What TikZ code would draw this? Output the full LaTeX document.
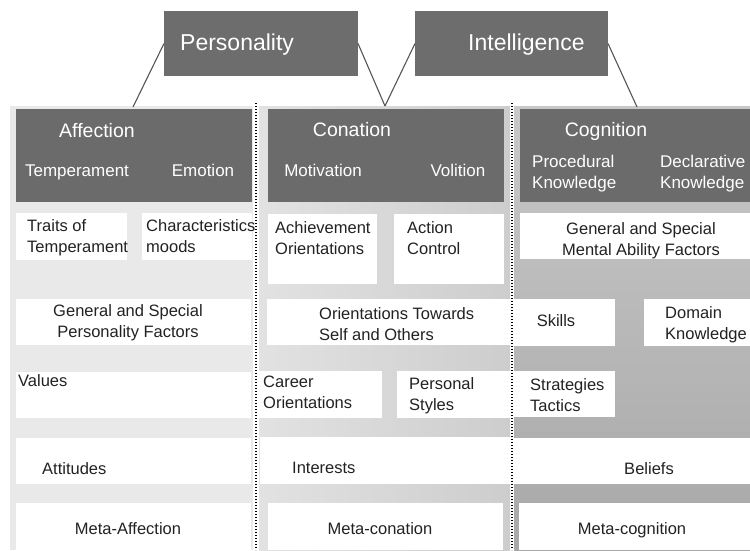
\documentclass[tikz,border=0pt]{standalone}
\usepackage{fontspec}
\setmainfont{Liberation Sans}
\definecolor{hdr}{HTML}{6B6B6B}
\definecolor{topc}{HTML}{6D6D6D}
\definecolor{txt}{HTML}{222222}
\definecolor{lc}{HTML}{555555}
\definecolor{cA}{HTML}{E9E9E9}
\definecolor{cBl}{HTML}{E2E2E2}
\definecolor{cBr}{HTML}{CDCDCD}
\definecolor{cCt}{HTML}{C8C8C8}
\definecolor{cCm}{HTML}{ABABAB}
\definecolor{cCb}{HTML}{A8A8A8}
\newcommand{\tl}[1]{\begin{tabular}[t]{@{}l@{}}#1\end{tabular}}
\newcommand{\tcc}[1]{\begin{tabular}[t]{@{}c@{}}#1\end{tabular}}
\newcommand{\mkbox}[6]{\node[#1,minimum width={(#5-#3)*1pt},minimum height={(#6-#4)*1pt}] (#2) at (#3,#4) {};}
\tikzset{
  wbox/.style={fill=white,draw=none,inner sep=0pt,outer sep=0pt,anchor=north west},
  dbox/.style={fill=hdr,draw=none,inner sep=0pt,outer sep=0pt,anchor=north west},
  tbox/.style={fill=topc,draw=none,inner sep=0pt,outer sep=0pt,anchor=north west},
  body/.style={font=\fontsize{16.5}{21.5}\selectfont,text=txt,inner sep=0pt},
  hdtxt/.style={font=\fontsize{19.5}{23}\selectfont,text=white,inner sep=0pt,anchor=base},
  subtxt/.style={font=\fontsize{17}{21}\selectfont,text=white,inner sep=0pt},
  toptxt/.style={font=\fontsize{23}{27}\selectfont,text=white,inner sep=0pt,anchor=base west},
  conn/.style={draw=lc,line width=1.1pt},
  sepline/.style={draw=black,line width=1.3pt,dash pattern=on 1.3pt off 1.7pt}
}
\begin{document}
\begin{tikzpicture}[x=1pt,y=-1pt]
\useasboundingbox[fill=white] (0,0) rectangle (750,550);
% column backgrounds
\fill[cA] (10,106) rectangle (253,550);
\fill[left color=cBl,right color=cBr] (259,106) rectangle (510,550);
\fill[top color=cCt,middle color=cCm,bottom color=cCb] (514,106) rectangle (750,550);
% top boxes
\mkbox{tbox}{pers}{164}{11}{358}{76}
\mkbox{tbox}{intel}{415}{11}{608}{76}
\node[toptxt] (tpers) at (180,50) {Personality};
\node[toptxt] (tintel) at (468,50) {Intelligence};
% headers
\mkbox{dbox}{haff}{16}{109}{252}{202}
\mkbox{dbox}{hcon}{268}{109}{504}{202}
\mkbox{dbox}{hcog}{520}{109}{750}{202}
\node[hdtxt] (taff) at (97,137) {Affection};
\node[hdtxt] (tcon) at (352,136) {Conation};
\node[hdtxt] (tcog) at (606,136) {Cognition};
\node[subtxt,anchor=base] (ttemp) at (77,176) {Temperament};
\node[subtxt,anchor=base] (temo) at (203,176) {Emotion};
\node[subtxt,anchor=base] (tmot) at (323,176) {Motivation};
\node[subtxt,anchor=base] (tvol) at (458,176) {Volition};
\node[subtxt,anchor=base west] (tproc) at (532,167) {\tl{Procedural\\Knowledge}};
\node[subtxt,anchor=base west] (tdecl) at (660,167) {\tl{Declarative\\Knowledge}};
% white boxes
\mkbox{wbox}{traits}{16}{213}{127}{260}
\mkbox{wbox}{charac}{142}{213}{252}{260}
\mkbox{wbox}{achieve}{268}{214}{377}{284}
\mkbox{wbox}{action}{394}{214}{504}{284}
\mkbox{wbox}{mental}{520}{213}{750}{259}
\mkbox{wbox}{persfac}{16}{299}{251}{345}
\mkbox{wbox}{orient}{267}{299}{510}{345}
\mkbox{wbox}{skills}{513}{299}{615}{346}
\mkbox{wbox}{domain}{644}{299}{750}{346}
\mkbox{wbox}{values}{16}{372}{251}{418}
\mkbox{wbox}{career}{258}{371}{382}{418}
\mkbox{wbox}{styles}{397}{371}{511}{418}
\mkbox{wbox}{strat}{513}{371}{615}{417}
\mkbox{wbox}{attit}{16}{438}{251}{484}
\mkbox{wbox}{inter}{260}{437}{511}{484}
\mkbox{wbox}{beliefs}{513}{438}{750}{484}
\mkbox{wbox}{metaaff}{16}{503}{251}{550}
\mkbox{wbox}{metacon}{268}{503}{503}{550}
\mkbox{wbox}{metacog}{519}{503}{750}{550}
% texts
\node[body,anchor=base west] (ttraits) at (27,231) {\tl{Traits of\\Temperament}};
\node[body,anchor=base west] (tcharac) at (146,231) {\tl{Characteristics\\moods}};
\node[body,anchor=base west] (tachieve) at (275,233) {\tl{Achievement\\Orientations}};
\node[body,anchor=base west] (taction) at (407,233) {\tl{Action\\Control}};
\node[body,anchor=base] (tmental) at (641,234) {\tcc{General and Special\\Mental Ability Factors}};
\node[body,anchor=base] (tpersfac) at (128,316) {\tcc{General and Special\\Personality Factors}};
\node[body,anchor=base west] (torient) at (319,319) {\tl{Orientations Towards\\Self and Others}};
\node[body,anchor=base] (tskills) at (556,326) {Skills};
\node[body,anchor=base west] (tdomain) at (665,318) {\tl{Domain\\Knowledge}};
\node[body,anchor=base west] (tvalues) at (18,386) {Values};
\node[body,anchor=base west] (tcareer) at (263,387) {\tl{Career\\Orientations}};
\node[body,anchor=base west] (tstyles) at (409,389) {\tl{Personal\\Styles}};
\node[body,anchor=base west] (tstrat) at (530,390) {\tl{Strategies\\Tactics}};
\node[body,anchor=base west] (tattit) at (42,474) {Attitudes};
\node[body,anchor=base west] (tinter) at (292,473) {Interests};
\node[body,anchor=base] (tbeliefs) at (649,474) {Beliefs};
\node[body,anchor=base] (tmetaaff) at (128,534) {Meta-Affection};
\node[body,anchor=base] (tmetacon) at (380,534) {Meta-conation};
\node[body,anchor=base] (tmetacog) at (632,534) {Meta-cognition};
% connectors
\coordinate (affTop) at (133,107);
\coordinate (conTop) at (385,106);
\coordinate (cogTop) at (637,107);
\draw[conn] (pers.west) -- (affTop);
\draw[conn] (pers.east) -- (conTop);
\draw[conn] (intel.west) -- (conTop);
\draw[conn] (intel.east) -- (cogTop);
% dotted separators
\coordinate (s1a) at (256,103);
\coordinate (s1b) at (256,550);
\coordinate (s2a) at (512,103);
\coordinate (s2b) at (512,550);
\draw[sepline] (s1a) -- (s1b);
\draw[sepline] (s2a) -- (s2b);
\end{tikzpicture}
\end{document}
